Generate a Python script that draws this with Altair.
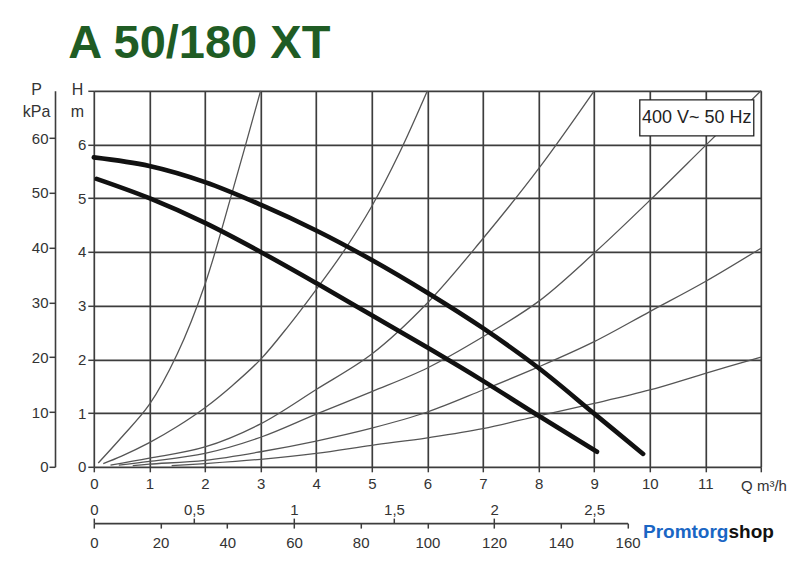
import altair as alt
import pandas as pd

FONT = "Liberation Sans"
GRID = "#3d3d3d"
LABEL = "#333333"
GREEN = "#1f5c24"

TITLE = "A 50/180 XT"
SUPPLY = "400 V~ 50 Hz"
LOGO_A = "Promtorg"
LOGO_B = "shop"

# pump curves (Q m3/h, H m)
MAX_Q = [0, 1, 2, 3, 4, 5, 6, 7, 8, 9, 9.88]
MAX_H = [5.76, 5.6, 5.3, 4.88, 4.4, 3.85, 3.24, 2.58, 1.84, 0.99, 0.24]
MIN_Q = [0.05, 1, 2, 3, 4, 5, 6, 7, 8, 9.05]
MIN_H = [5.36, 5.0, 4.54, 4.0, 3.42, 2.82, 2.22, 1.6, 0.95, 0.28]

# system curves
S1_Q = [0.08, 0.5, 1, 1.5, 2, 2.5, 3]
S1_H = [0.07, 0.55, 1.16, 2.1, 3.4, 5.15, 7.0]
S2_Q = [0.17, 0.5, 1, 1.5, 2, 2.5, 3, 3.5, 4, 4.5, 5, 5.5, 6]
S2_H = [0.06, 0.2, 0.45, 0.75, 1.1, 1.52, 2.0, 2.62, 3.3, 4.02, 4.85, 5.85, 7.0]
S3_Q = [0.3, 1, 2, 3, 4, 5, 6, 7, 8, 9]
S3_H = [0.03, 0.16, 0.37, 0.8, 1.44, 2.1, 3.05, 4.25, 5.55, 7.0]
S4_Q = [0.45, 1, 2, 3, 4, 5, 6, 7, 8, 9, 10, 11, 12]
S4_H = [0.03, 0.1, 0.25, 0.55, 0.98, 1.4, 1.84, 2.42, 3.08, 3.98, 4.96, 5.98, 7.0]
S5_Q = [0.7, 1, 2, 3, 4, 5, 6, 7, 8, 9, 10, 11, 12]
S5_H = [0.02, 0.05, 0.12, 0.28, 0.48, 0.72, 1.02, 1.43, 1.86, 2.33, 2.89, 3.45, 4.07]
S6_Q = [1.4, 2, 3, 4, 5, 6, 7, 8, 9, 10, 11, 12]
S6_H = [0.02, 0.06, 0.14, 0.25, 0.4, 0.54, 0.71, 0.95, 1.18, 1.43, 1.74, 2.04]

Q_TICKS = list(range(0, 13))
H_TICKS = list(range(0, 8))
KPA_TICKS = [0, 10, 20, 30, 40, 50, 60]
LS_TICKS = [0, 0.5, 1, 1.5, 2, 2.5]
LMIN_TICKS = [0, 20, 40, 60, 80, 100, 120, 140, 160]

BOX_Q = [9.82, 11.87]
BOX_H = [6.16, 6.83]

W = 667.2
HGT = 376
PXQ = W / 12.0


def frame(name, qs, hs):
    return pd.DataFrame({"series": name, "q": qs, "h": hs})


pump_df = pd.concat([frame("max", MAX_Q, MAX_H), frame("min", MIN_Q, MIN_H)])
sys_df = pd.concat([
    frame("s1", S1_Q, S1_H), frame("s2", S2_Q, S2_H), frame("s3", S3_Q, S3_H),
    frame("s4", S4_Q, S4_H), frame("s5", S5_Q, S5_H), frame("s6", S6_Q, S6_H),
])
box_df = pd.DataFrame({"q": [BOX_Q[0]], "q2": [BOX_Q[1]], "h": [BOX_H[0]], "h2": [BOX_H[1]]})
box_text_df = pd.DataFrame({"q": [(BOX_Q[0] + BOX_Q[1]) / 2], "h": [(BOX_H[0] + BOX_H[1]) / 2], "t": [SUPPLY]})

x_axis = alt.Axis(
    values=Q_TICKS, grid=True, gridColor=GRID, gridWidth=1.7, gridOpacity=1,
    domain=False, ticks=True, tickSize=5, tickColor=GRID, tickWidth=1.5,
    labelExpr="datum.value == 12 ? '' : datum.label",
    labelFlush=False, labelOverlap=False,
    labelFont=FONT, labelFontSize=15, labelColor=LABEL,
    labelBaseline="alphabetic", labelPadding=17,
    title="Q m³/h", titleX=669.7, titleY=23.3, titleAlign="center",
    titleBaseline="alphabetic", titleFont=FONT, titleFontSize=15,
    titleFontWeight="normal", titleColor=LABEL,
)
y_axis = alt.Axis(
    values=H_TICKS, grid=True, gridColor=GRID, gridWidth=1.7, gridOpacity=1,
    domain=False, ticks=True, tickSize=6, tickColor=GRID, tickWidth=1.5,
    labelExpr="datum.value == 7 ? '' : datum.label",
    labelFont=FONT, labelFontSize=15, labelColor=LABEL, labelPadding=2,
    title=["H", "m"], titleAngle=0, titleX=-16.8, titleY=4.2, titleAlign="center",
    titleBaseline="alphabetic", titleLineHeight=22, titleFont=FONT,
    titleFontSize=16, titleFontWeight="normal", titleColor=LABEL,
)

X = alt.X("q:Q", scale=alt.Scale(domain=[0, 12], nice=False, zero=False), axis=x_axis)
Y = alt.Y("h:Q", scale=alt.Scale(domain=[0, 7], nice=False, zero=False), axis=y_axis)

sys_lines = alt.Chart(sys_df).mark_line(
    color="#555555", strokeWidth=1.3, interpolate="catmull-rom"
).encode(x=X, y=Y, detail="series:N")

pump_lines = alt.Chart(pump_df).mark_line(
    color="#111111", strokeWidth=4.6, strokeCap="round", interpolate="catmull-rom"
).encode(x=X, y=Y, detail="series:N")

box = alt.Chart(box_df).mark_rect(
    fill="white", stroke="#222222", strokeWidth=1.3
).encode(x=X, x2="q2:Q", y=Y, y2="h2:Q")

box_text = alt.Chart(box_text_df).mark_text(
    font=FONT, fontSize=18, color="#222222", align="center", baseline="middle"
).encode(x=X, y=Y, text="t:N")

title_text = alt.Chart(pd.DataFrame({"t": [TITLE]})).mark_text(
    font=FONT, fontSize=47, fontWeight="bold", color=GREEN, align="left", baseline="alphabetic"
).encode(x=alt.value(-25.5), y=alt.value(-32.5), text="t:N")

logo_a = alt.Chart(pd.DataFrame({"t": [LOGO_A]})).mark_text(
    font=FONT, fontSize=19, fontWeight="bold", color="#1a66c4", align="left", baseline="alphabetic"
).encode(x=alt.value(549.2), y=alt.value(447.2), text="t:N")

logo_b = alt.Chart(pd.DataFrame({"t": [LOGO_B]})).mark_text(
    font=FONT, fontSize=19, fontWeight="bold", color="#111111", align="left", baseline="alphabetic"
).encode(x=alt.value(634.7), y=alt.value(447.2), text="t:N")

main = alt.layer(sys_lines, pump_lines, box, box_text, title_text, logo_a, logo_b)

kpa_layer = alt.Chart(pd.DataFrame({"kpa": KPA_TICKS})).mark_point(opacity=0).encode(
    y=alt.Y("kpa:Q", scale=alt.Scale(domain=[0, 7 * 9.80665], nice=False, zero=False),
            axis=alt.Axis(
                orient="left", offset=38.8, values=KPA_TICKS,
                domain=True, domainColor=GRID, domainWidth=1.6,
                ticks=True, tickSize=6, tickColor=GRID, tickWidth=1.5, grid=False,
                labelFont=FONT, labelFontSize=15, labelColor=LABEL, labelPadding=1,
                title=["P", "kPa"], titleAngle=0, titleX=-19, titleY=4.2,
                titleAlign="center", titleBaseline="alphabetic", titleLineHeight=22,
                titleFont=FONT, titleFontSize=16, titleFontWeight="normal", titleColor=LABEL,
            ))
)

ls_layer = alt.Chart(pd.DataFrame({"ls": LS_TICKS})).mark_point(opacity=0).encode(
    x=alt.X("ls:Q", scale=alt.Scale(domain=[0, 160 / 60], range=[0, 9.6 * PXQ], nice=False, zero=False),
            axis=alt.Axis(
                orient="bottom", offset=51.3, values=LS_TICKS,
                domain=False, ticks=True, tickSize=5, tickColor=GRID, tickWidth=1.5, grid=False,
                labelExpr="replace(toString(datum.value), '.', ',')",
                labelFlush=False, labelOverlap=False,
                labelFont=FONT, labelFontSize=15, labelColor=LABEL,
                labelBaseline="alphabetic", labelPadding=-9, title=None,
            ))
)

lmin_layer = alt.Chart(pd.DataFrame({"lmin": LMIN_TICKS})).mark_point(opacity=0).encode(
    x=alt.X("lmin:Q", scale=alt.Scale(domain=[0, 160], range=[0, 9.6 * PXQ], nice=False, zero=False),
            axis=alt.Axis(
                orient="bottom", offset=56.3, values=LMIN_TICKS,
                domain=True, domainColor=GRID, domainWidth=1.6,
                ticks=True, tickSize=5, tickColor=GRID, tickWidth=1.5, grid=False,
                labelFlush=False, labelOverlap=False,
                labelFont=FONT, labelFontSize=15, labelColor=LABEL,
                labelBaseline="alphabetic", labelPadding=19, title=None,
            ))
)

chart = alt.layer(main, kpa_layer, ls_layer, lmin_layer).resolve_scale(
    x="independent", y="independent"
).properties(
    width=W, height=HGT,
    autosize=alt.AutoSizeParams(type="none"),
    padding={"left": 85.8, "top": 82.8, "right": 42, "bottom": 95},
    background="white",
).configure_view(stroke=None)

chart.save("out.html", embed_options={"renderer": "svg", "actions": False})
